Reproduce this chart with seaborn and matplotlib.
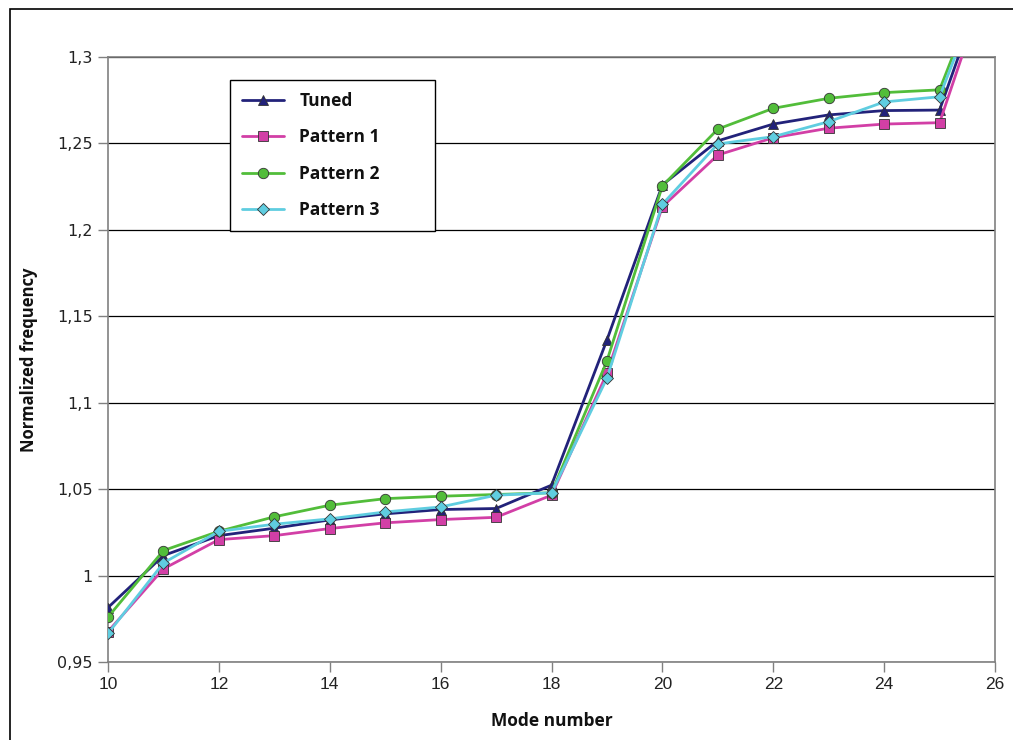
import pandas as pd
import numpy as np
import seaborn as sns
import matplotlib.pyplot as plt
from matplotlib.ticker import FuncFormatter, MultipleLocator
from matplotlib.patches import Rectangle

## DATOS
modos = [10, 11, 12, 13, 14, 15, 16, 17, 18, 19, 20, 21, 22, 23, 24, 25, 26]
tuned = [0.9815, 1.0116, 1.0231, 1.0274, 1.0322, 1.0357, 1.0382, 1.0388, 1.0523, 1.1363, 1.2260,
         1.2515, 1.2612, 1.2665, 1.2690, 1.2693, 1.3600]
pattern1 = [0.9676, 1.0039, 1.0208, 1.0231, 1.0272, 1.0305, 1.0324, 1.0337, 1.0465, 1.1170, 1.2134,
            1.2433, 1.2533, 1.2588, 1.2612, 1.2620, 1.3570]
pattern2 = [0.9760, 1.0145, 1.0256, 1.0340, 1.0407, 1.0445, 1.0459, 1.0469, 1.0479, 1.1242, 1.2254,
            1.2583, 1.2703, 1.2761, 1.2794, 1.2810, 1.3630]
pattern3 = [0.9665, 1.0073, 1.0256, 1.0297, 1.0328, 1.0368, 1.0397, 1.0465, 1.0479, 1.1142, 1.2148,
            1.2497, 1.2539, 1.2626, 1.2740, 1.2770, 1.3600]

series = ["Tuned", "Pattern 1", "Pattern 2", "Pattern 3"]
colores = {"Tuned": "#22227a", "Pattern 1": "#d23fa6", "Pattern 2": "#52bd3a", "Pattern 3": "#5fcde0"}
marcadores = {"Tuned": "^", "Pattern 1": "s", "Pattern 2": "o", "Pattern 3": "D"}
tamanos = {"Tuned": 7.5, "Pattern 1": 6.5, "Pattern 2": 7.5, "Pattern 3": 6.5}

df = pd.DataFrame({
    "Mode number": modos * 4,
    "Normalized frequency": tuned + pattern1 + pattern2 + pattern3,
    "serie": sum([[s] * len(modos) for s in series], []),
})

## GRAFICO
sns.set_style("white")
plt.rcParams['font.family'] = ['DejaVu Sans']

fig = plt.figure(figsize=(10.13, 7.40), dpi=100)
ax = fig.add_axes([108 / 1013, 1 - 662 / 740, 887 / 1013, 605 / 740])

for s in series:
    sns.lineplot(data=df[df["serie"] == s], x="Mode number", y="Normalized frequency",
                 color=colores[s], marker=marcadores[s], markersize=tamanos[s],
                 markeredgecolor="#333333", markeredgewidth=0.6, linewidth=2,
                 label=s, ax=ax, zorder=3)

ax.set_xlim(10, 26)
ax.set_ylim(0.95, 1.3)
ax.xaxis.set_major_locator(MultipleLocator(2))
ax.yaxis.set_major_locator(MultipleLocator(0.05))
fmt = FuncFormatter(lambda v, pos: f"{round(v, 2):g}".replace(".", ","))
ax.yaxis.set_major_formatter(fmt)
ax.xaxis.set_major_formatter(FuncFormatter(lambda v, pos: f"{int(round(v))}"))

# rejilla horizontal negra
ax.grid(axis="y", color="black", linewidth=0.9)
ax.grid(axis="x", visible=False)
ax.set_axisbelow(True)
for sp in ax.spines.values():
    sp.set_visible(True)
    sp.set_color("#808080")
    sp.set_linewidth(1.2)

ax.tick_params(axis="both", direction="out", length=7, width=1, color="#808080",
               pad=4, left=True, bottom=True, labelcolor="#222222")
for t in ax.get_xticklabels():
    t.set_fontfamily("Liberation Sans")
    t.set_fontsize(12.5)
for t in ax.get_yticklabels():
    t.set_fontfamily("DejaVu Sans")
    t.set_fontsize(11.5)

ax.set_xlabel("Mode number", fontsize=12.5, fontweight="bold", family="Open Sans",
              labelpad=14, color="#111111")
ax.set_ylabel("Normalized frequency", fontsize=12, fontweight="bold", family="Open Sans",
              labelpad=14, color="#111111")

ancho, alto = 205 / 887, 152 / 605
leg = ax.legend(loc="upper left", bbox_to_anchor=(0.1375, 0.962 - alto, ancho, alto),
                mode="expand", borderaxespad=0,
                prop={"family": "Open Sans", "weight": "bold", "size": 12.5},
                labelspacing=1.05, handlelength=2.4, handletextpad=0.9,
                fancybox=False, framealpha=1, edgecolor="black", borderpad=0.7)
leg.get_frame().set_linewidth(1)
for t in leg.get_texts():
    t.set_color("#111111")

# marco exterior
fig.patches.append(Rectangle((10 / 1013, -0.01), 1.1, 1 - 9 / 740 + 0.01, transform=fig.transFigure,
                             fill=False, edgecolor="black", linewidth=1.2))

plt.savefig("out.png", dpi=100)
